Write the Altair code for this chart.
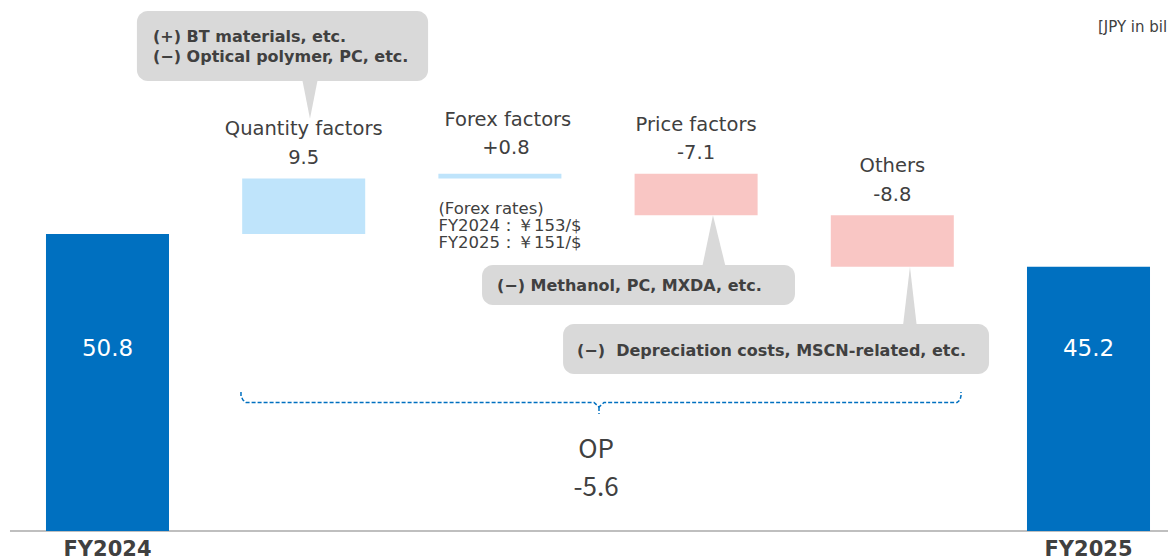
import altair as alt
import pandas as pd

# ---------------- data ----------------
categories = ["FY2024", "Quantity factors", "Forex factors", "Price factors", "Others", "FY2025"]
values = [50.8, 9.5, 0.8, -7.1, -8.8, 45.2]
kinds = ["total", "delta", "delta", "delta", "delta", "total"]
value_labels = ["50.8", "9.5", "+0.8", "-7.1", "-8.8", "45.2"]

notes_quantity = ["(+) BT materials, etc.", "(\u2212) Optical polymer, PC, etc."]
note_price = "(\u2212) Methanol, PC, MXDA, etc."
note_others = "(\u2212)\u00a0\u00a0Depreciation costs, MSCN-related, etc."
forex_rates = ["(Forex rates)", "FY2024\uff1a\uffe5153/$", "FY2025\uff1a\uffe5151/$"]
unit_label = "[JPY in billions]"
op_label = "OP"
op_change = "-5.6"

# ---------------- styles ----------------
FONT = "DejaVu Sans"
FONT_OP = "Noto Sans CJK JP"
TXT = "#404040"
C_TOTAL = "#0070C0"
C_UP = "#BFE4FB"
C_DOWN = "#F9C6C4"
BOX = "#D9D9D9"
HALF = 0.3135

xs = alt.Scale(domain=[-0.5071, 5.4052], nice=False, zero=False)
ys = alt.Scale(domain=[0, 89.46], range=[523, 0], nice=False, zero=False)

# ---------------- waterfall table ----------------
rows = []
running = 0.0
for i, (c, v, k, l) in enumerate(zip(categories, values, kinds, value_labels)):
    if k == "total":
        s, e = 0.0, v
    else:
        s, e = running, running + v
    running = e
    kind = "total" if k == "total" else ("up" if v >= 0 else "down")
    rows.append(dict(idx=i, cat=c, start=round(s, 2), end=round(e, 2),
                     top=round(max(s, e), 2), kind=kind, label=l,
                     x0=i - HALF, x1=i + HALF))
df = pd.DataFrame(rows)
base = alt.Chart(df)

bars = base.mark_rect().encode(
    x=alt.X("x0:Q", scale=xs, axis=None), x2="x1:Q",
    y=alt.Y("start:Q", scale=ys, axis=None), y2="end:Q",
    color=alt.Color("kind:N", scale=alt.Scale(domain=["total", "up", "down"],
                                             range=[C_TOTAL, C_UP, C_DOWN]), legend=None),
)

total_vals = base.transform_filter("datum.kind == 'total'").transform_calculate(
    ty="31.1").mark_text(
    font=FONT, fontSize=23, color="white", baseline="middle", align="center"
).encode(x=alt.X("idx:Q", scale=xs, axis=None), y=alt.Y("ty:Q", scale=ys, axis=None),
         text="label:N")

total_names = base.transform_filter("datum.kind == 'total'").transform_calculate(
    ny="-3.3").mark_text(
    font=FONT, fontSize=21, fontWeight="bold", color=TXT, baseline="middle", align="center"
).encode(x=alt.X("idx:Q", scale=xs, axis=None), y=alt.Y("ny:Q", scale=ys, axis=None),
         text="cat:N")

delta_main = base.transform_filter("datum.kind != 'total' && datum.cat != 'Forex factors'")
delta_fx = base.transform_filter("datum.cat == 'Forex factors'")

def lab(src, field, dy, dx=0):
    return src.mark_text(font=FONT, fontSize=19.5, color=TXT, baseline="middle",
                         align="center", dy=dy, dx=dx).encode(
        x=alt.X("idx:Q", scale=xs, axis=None),
        y=alt.Y("top:Q", scale=ys, axis=None), text=f"{field}:N")

# ---------------- callouts ----------------
boxes = pd.DataFrame(dict(
    bx0=[0.150, 1.909, 2.322], bx1=[1.634, 3.504, 4.493],
    by0=[88.95, 45.50, 35.41], by1=[76.98, 38.66, 26.86]))
box_marks = alt.Chart(boxes).mark_rect(color=BOX, cornerRadius=11).encode(
    x=alt.X("bx0:Q", scale=xs, axis=None), x2="bx1:Q",
    y=alt.Y("by0:Q", scale=ys, axis=None), y2="by1:Q")

tri = pd.DataFrame(dict(
    t=[1, 1, 2, 2, 3, 3],
    ty=[77.5, 70.5, 45.0, 54.0, 35.0, 45.2],
    tl=[0.991, 1.032, 3.030, 3.086, 4.054, 4.090],
    tr=[1.073, 1.032, 3.152, 3.086, 4.125, 4.090]))
tri_marks = alt.Chart(tri).mark_area(color=BOX, orient="horizontal").encode(
    y=alt.Y("ty:Q", scale=ys, axis=None),
    x=alt.X("tl:Q", scale=xs, axis=None), x2="tr:Q", detail="t:N")

note_df = pd.DataFrame(dict(
    text=notes_quantity + [note_price, note_others],
    nx=[0.232, 0.232, 1.985, 2.393],
    ny=[84.5, 81.08, 41.91, 30.79]))
note_marks = alt.Chart(note_df).mark_text(
    font=FONT, fontSize=16, fontWeight="bold", color=TXT, align="left", baseline="middle"
).encode(x=alt.X("nx:Q", scale=xs, axis=None), y=alt.Y("ny:Q", scale=ys, axis=None), text="text:N")

fx_df = pd.DataFrame(dict(text=forex_rates, fx=[2 - HALF] * 3, fy=[55.08, 52.17, 49.26]))
fx_marks = alt.Chart(fx_df).mark_text(
    font=FONT, fontSize=16.5, color=TXT, align="left", baseline="middle"
).encode(x=alt.X("fx:Q", scale=xs, axis=None), y=alt.Y("fy:Q", scale=ys, axis=None), text="text:N")

unit_df = pd.DataFrame(dict(text=[unit_label], ux=[5.048], uy=[86.2]))
unit_marks = alt.Chart(unit_df).mark_text(
    font=FONT, fontSize=15, color=TXT, align="left", baseline="middle"
).encode(x=alt.X("ux:Q", scale=xs, axis=None), y=alt.Y("uy:Q", scale=ys, axis=None), text="text:N")

# ---------------- brace + OP ----------------
brace = pd.DataFrame(dict(
    g=[1] * 11 + [2, 2],
    o=list(range(11)) + [0, 1],
    bx=[0.6804, 0.6804, 0.6906, 0.7059, 2.4796, 2.5051, 2.5306, 4.3298, 4.3451, 4.3501, 4.3501,
        2.5051, 2.5051],
    by=[23.78, 23.09, 22.41, 21.98, 21.98, 21.21, 21.98, 21.98, 22.41, 23.09, 23.78,
        21.21, 20.01]))
brace_marks = alt.Chart(brace).mark_line(
    color=C_TOTAL, strokeWidth=1.5, strokeDash=[4, 2]
).encode(x=alt.X("bx:Q", scale=xs, axis=None), y=alt.Y("by:Q", scale=ys, axis=None),
         detail="g:N", order="o:Q")

op_df = pd.DataFrame(dict(text=[op_label, op_change], ox=[2.49, 2.49], oy=[13.86, 7.36]))
op_marks = alt.Chart(op_df).mark_text(
    font=FONT_OP, fontSize=26, color=TXT, align="center", baseline="middle"
).encode(x=alt.X("ox:Q", scale=xs, axis=None), y=alt.Y("oy:Q", scale=ys, axis=None), text="text:N")

# ---------------- baseline ----------------
base_df = pd.DataFrame(dict(x0=[-0.497], x1=[5.5], y=[0.0]))
baseline = alt.Chart(base_df).mark_rule(color="#BFBFBF", strokeWidth=2).encode(
    x=alt.X("x0:Q", scale=xs, axis=None), x2="x1:Q", y=alt.Y("y:Q", scale=ys, axis=None))

chart = alt.layer(
    baseline, bars, box_marks, tri_marks, note_marks, total_vals, total_names,
    lab(delta_main, "label", -20.5), lab(delta_main, "cat", -49),
    lab(delta_fx, "label", -25.5, 6), lab(delta_fx, "cat", -54, 8),
    fx_marks, unit_marks, brace_marks, op_marks
).properties(
    width=1160, height=552, padding=0,
    autosize=alt.AutoSizeParams(type="none"),
).configure_view(stroke=None)

chart.save("out.html", embed_options={"renderer": "svg", "actions": False})
